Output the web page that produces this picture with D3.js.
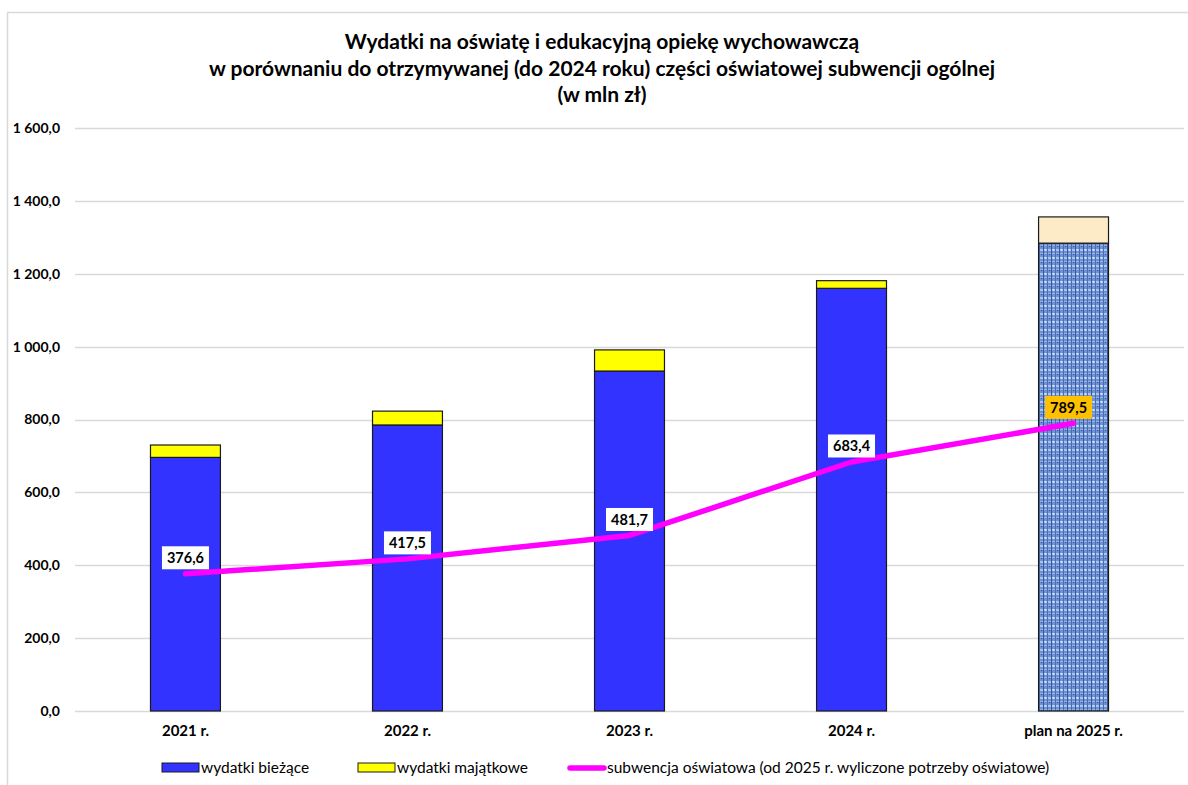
<!DOCTYPE html>
<html>
<head>
<meta charset="utf-8">
<script src="https://cdn.jsdelivr.net/npm/d3@7"></script>
<style>
  body { margin: 0; background: #fff; }
  svg { display: block; font-family: Lato, "Liberation Sans", sans-serif; }
</style>
</head>
<body>
<div id="chart"></div>
<script>
// data
const years = ["2021 r.", "2022 r.", "2023 r.", "2024 r.", "plan na 2025 r."];
const biezace = [696, 785, 933, 1160, 1284];
const majatkowe = [34, 38, 58, 21, 72];
const subwencja = [376.6, 417.5, 481.7, 683.4, 789.5];
const yTicks = [0, 200, 400, 600, 800, 1000, 1200, 1400, 1600];
const titleLines = [
  "Wydatki na oświatę i edukacyjną opiekę wychowawczą",
  "w porównaniu do otrzymywanej (do 2024 roku) części oświatowej subwencji ogólnej",
  "(w mln zł)"
];

const W = 1188, H = 785;
const margin = {top: 128, left: 75, right: 4, bottom: 74};

const svg = d3.select("#chart").append("svg")
    .attr("width", W)
    .attr("height", H);

// fabric-like texture for the planned year
const defs = svg.append("defs");
const pat = defs.append("pattern")
    .attr("id", "fabric")
    .attr("patternUnits", "userSpaceOnUse")
    .attr("width", 8).attr("height", 8);
pat.append("rect").attr("width", 8).attr("height", 8).attr("fill", "#6d91d2");
pat.append("rect").attr("x", 0).attr("y", 1).attr("width", 8).attr("height", 2).attr("fill", "#a9c4f0");
pat.append("rect").attr("x", 0).attr("y", 5).attr("width", 8).attr("height", 1).attr("fill", "#93b2e8");
pat.append("rect").attr("x", 3).attr("y", 0).attr("width", 1).attr("height", 8).attr("fill", "#34569c");
pat.append("rect").attr("x", 7).attr("y", 0).attr("width", 1).attr("height", 8).attr("fill", "#4a6cb2");
pat.append("rect").attr("x", 5).attr("y", 1).attr("width", 1).attr("height", 2).attr("fill", "#d2e0f8");
pat.append("rect").attr("x", 1).attr("y", 6).attr("width", 1).attr("height", 1).attr("fill", "#2c4a8c");

// outer chart border (partially cut by the picture)
svg.append("path")
    .attr("d", "M7.5," + H + "V12.5H" + W)
    .attr("fill", "none")
    .attr("stroke", "#d9d9d9")
    .attr("stroke-width", 1.5);

const x = d3.scaleBand()
    .domain(years)
    .range([margin.left, W - margin.right])
    .paddingInner(0.685)
    .paddingOuter(0.34);

const y = d3.scaleLinear()
    .domain([0, 1600])
    .range([H - margin.bottom, margin.top]);

// gridlines
svg.append("g")
    .selectAll("line")
    .data(yTicks)
    .enter().append("line")
    .attr("x1", margin.left)
    .attr("x2", W - margin.right)
    .attr("y1", d => Math.round(y(d)) + 0.5)
    .attr("y2", d => Math.round(y(d)) + 0.5)
    .attr("stroke", "#d9d9d9")
    .attr("stroke-width", 1.5);

// y axis labels
const fmt = d => {
    const s = d.toFixed(1).replace(".", ",");
    return d >= 1000 ? s.slice(0, 1) + " " + s.slice(1) : s;
};
const yAxis = d3.axisLeft(y).tickValues(yTicks).tickFormat(fmt).tickSize(0).tickPadding(15);
svg.append("g")
    .attr("transform", "translate(" + margin.left + ",0)")
    .call(yAxis)
    .call(g => g.select(".domain").remove())
    .selectAll("text")
    .attr("font-family", "Lato, sans-serif")
    .attr("font-size", 14)
    .attr("font-weight", "bold")
    .attr("fill", "#000");

// x axis labels
const xAxis = d3.axisBottom(x).tickSize(0).tickPadding(14);
svg.append("g")
    .attr("transform", "translate(0," + (H - margin.bottom) + ")")
    .call(xAxis)
    .call(g => g.select(".domain").remove())
    .selectAll("text")
    .attr("font-family", "Lato, sans-serif")
    .attr("font-size", 15)
    .attr("font-weight", "bold")
    .attr("fill", "#000");

// bars: current spending
svg.append("g")
    .selectAll("rect")
    .data(years)
    .enter().append("rect")
    .attr("x", d => x(d))
    .attr("width", x.bandwidth())
    .attr("y", (d, i) => y(biezace[i]))
    .attr("height", (d, i) => y(0) - y(biezace[i]))
    .attr("fill", (d, i) => i === 4 ? "url(#fabric)" : "#3333ff")
    .attr("stroke", "#1a1a1a")
    .attr("stroke-width", 1.2);

// bars: capital spending
svg.append("g")
    .selectAll("rect")
    .data(years)
    .enter().append("rect")
    .attr("x", d => x(d))
    .attr("width", x.bandwidth())
    .attr("y", (d, i) => y(biezace[i] + majatkowe[i]))
    .attr("height", (d, i) => y(biezace[i]) - y(biezace[i] + majatkowe[i]))
    .attr("fill", (d, i) => i === 4 ? "#fdebc8" : "#ffff00")
    .attr("stroke", "#1a1a1a")
    .attr("stroke-width", 1.2);

// subsidy line
const cx = d => x(d) + x.bandwidth() / 2;
const line = d3.line()
    .x((d, i) => cx(years[i]))
    .y(d => y(d));
svg.append("path")
    .datum(subwencja)
    .attr("d", line)
    .attr("fill", "none")
    .attr("stroke", "#ff00ff")
    .attr("stroke-width", 5.5)
    .attr("stroke-linecap", "round")
    .attr("stroke-linejoin", "round");

// line data labels
const labels = svg.append("g")
    .selectAll("g")
    .data(subwencja)
    .enter().append("g")
    .attr("transform", (d, i) => "translate(" + (cx(years[i]) - (i === 4 ? 5 : 0)) + "," + (y(d) - 16) + ")");
labels.append("rect")
    .attr("x", -23.5).attr("y", -11.5)
    .attr("width", 47).attr("height", 23)
    .attr("fill", (d, i) => i === 4 ? "#ffc000" : "#fff");
labels.append("text")
    .attr("text-anchor", "middle")
    .attr("dy", "0.36em")
    .attr("font-size", 14.5)
    .attr("font-weight", "bold")
    .attr("fill", "#000")
    .text(d => d.toFixed(1).replace(".", ","));

// title
svg.append("g")
    .selectAll("text")
    .data(titleLines)
    .enter().append("text")
    .attr("x", 602)
    .attr("y", (d, i) => 49 + i * 26.5)
    .attr("text-anchor", "middle")
    .attr("font-size", 21)
    .attr("font-weight", "bold")
    .attr("fill", "#000")
    .text(d => d);

// legend
const legendItems = [
    {name: "wydatki bieżące", type: "rect", color: "#3333ff", x: 162},
    {name: "wydatki majątkowe", type: "rect", color: "#ffff00", x: 358},
    {name: "subwencja oświatowa (od 2025 r. wyliczone potrzeby oświatowe)", type: "line", color: "#ff00ff", x: 568}
];
const lg = svg.append("g")
    .selectAll("g")
    .data(legendItems)
    .enter().append("g")
    .attr("transform", d => "translate(" + d.x + ",768)");
lg.filter(d => d.type === "rect").append("rect")
    .attr("x", 0).attr("y", -5)
    .attr("width", 37).attr("height", 9)
    .attr("fill", d => d.color)
    .attr("stroke", "#1a1a1a")
    .attr("stroke-width", 1);
lg.filter(d => d.type === "line").append("line")
    .attr("x1", 2).attr("x2", 36)
    .attr("y1", 0).attr("y2", 0)
    .attr("stroke", d => d.color)
    .attr("stroke-width", 5.5)
    .attr("stroke-linecap", "round");
lg.append("text")
    .attr("x", 39)
    .attr("dy", "0.35em")
    .attr("font-size", 15.5)
    .attr("fill", "#000")
    .text(d => d.name);
</script>
</body>
</html>
